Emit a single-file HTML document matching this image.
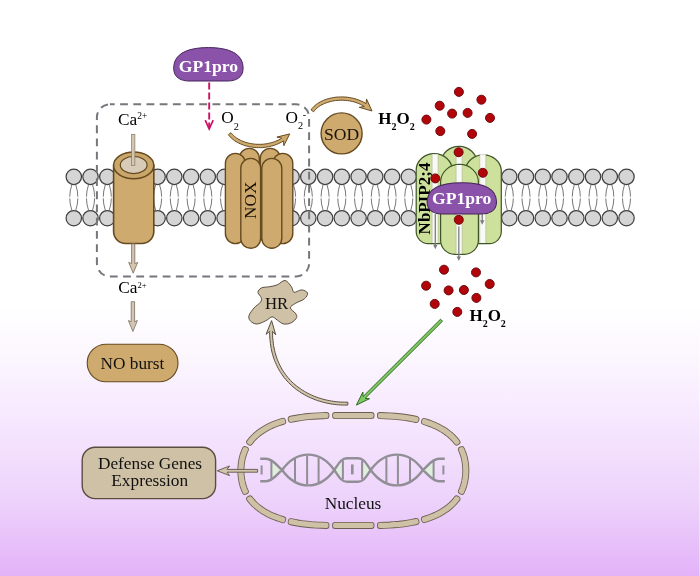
<!DOCTYPE html>
<html lang="en"><head><meta charset="utf-8"><title>GP1pro signalling diagram</title>
<style>html,body{margin:0;padding:0;background:#fff}body{width:700px;height:576px;overflow:hidden}svg{display:block;will-change:transform}</style>
</head><body>
<svg width="700" height="576" viewBox="0 0 700 576" font-family="'Liberation Serif',serif">
<defs><linearGradient id="bg" x1="0" y1="0" x2="0" y2="1"><stop offset="0" stop-color="#fff"/><stop offset="0.53" stop-color="#fff"/><stop offset="0.608" stop-color="#FCF8FE"/><stop offset="0.694" stop-color="#F8ECFE"/><stop offset="0.78" stop-color="#F3E0FD"/><stop offset="0.868" stop-color="#EDD3FB"/><stop offset="1" stop-color="#E3B2F8"/></linearGradient></defs>
<rect width="700" height="576" fill="url(#bg)"/>
<rect x="699" y="0" width="1" height="576" fill="#fff" opacity="0.4"/>
<g id="membrane">
<path d="M71.9,184.5Q67.5,197.5 71.9,210.5M75.7,184.5Q80.1,197.5 75.7,210.5M88.6,184.5Q84.2,197.5 88.6,210.5M92.5,184.5Q96.8,197.5 92.5,210.5M105.4,184.5Q101,197.5 105.4,210.5M109.2,184.5Q113.6,197.5 109.2,210.5M122.1,184.5Q117.8,197.5 122.1,210.5M126,184.5Q130.3,197.5 126,210.5M138.9,184.5Q134.5,197.5 138.9,210.5M142.7,184.5Q147.1,197.5 142.7,210.5M155.7,184.5Q151.2,197.5 155.7,210.5M159.5,184.5Q163.9,197.5 159.5,210.5M172.4,184.5Q168,197.5 172.4,210.5M176.2,184.5Q180.6,197.5 176.2,210.5M189.2,184.5Q184.8,197.5 189.2,210.5M193,184.5Q197.4,197.5 193,210.5M205.9,184.5Q201.5,197.5 205.9,210.5M209.7,184.5Q214.1,197.5 209.7,210.5M222.7,184.5Q218.2,197.5 222.7,210.5M226.5,184.5Q230.9,197.5 226.5,210.5M239.4,184.5Q235,197.5 239.4,210.5M243.2,184.5Q247.6,197.5 243.2,210.5M256.2,184.5Q251.8,197.5 256.2,210.5M259.9,184.5Q264.4,197.5 259.9,210.5M272.9,184.5Q268.5,197.5 272.9,210.5M276.7,184.5Q281.1,197.5 276.7,210.5M289.7,184.5Q285.2,197.5 289.7,210.5M293.4,184.5Q297.9,197.5 293.4,210.5M306.4,184.5Q302,197.5 306.4,210.5M310.2,184.5Q314.6,197.5 310.2,210.5M323.2,184.5Q318.8,197.5 323.2,210.5M326.9,184.5Q331.4,197.5 326.9,210.5M339.9,184.5Q335.5,197.5 339.9,210.5M343.7,184.5Q348.1,197.5 343.7,210.5M356.7,184.5Q352.2,197.5 356.7,210.5M360.4,184.5Q364.9,197.5 360.4,210.5M373.4,184.5Q369,197.5 373.4,210.5M377.2,184.5Q381.6,197.5 377.2,210.5M390.2,184.5Q385.8,197.5 390.2,210.5M393.9,184.5Q398.4,197.5 393.9,210.5M406.9,184.5Q402.5,197.5 406.9,210.5M410.7,184.5Q415.1,197.5 410.7,210.5M423.7,184.5Q419.2,197.5 423.7,210.5M427.4,184.5Q431.9,197.5 427.4,210.5M440.4,184.5Q436,197.5 440.4,210.5M444.2,184.5Q448.6,197.5 444.2,210.5M457.2,184.5Q452.8,197.5 457.2,210.5M460.9,184.5Q465.4,197.5 460.9,210.5M473.9,184.5Q469.5,197.5 473.9,210.5M477.7,184.5Q482.1,197.5 477.7,210.5M490.7,184.5Q486.2,197.5 490.7,210.5M494.4,184.5Q498.9,197.5 494.4,210.5M507.4,184.5Q503,197.5 507.4,210.5M511.2,184.5Q515.6,197.5 511.2,210.5M524.1,184.5Q519.8,197.5 524.1,210.5M527.9,184.5Q532.3,197.5 527.9,210.5M540.9,184.5Q536.5,197.5 540.9,210.5M544.7,184.5Q549.1,197.5 544.7,210.5M557.6,184.5Q553.2,197.5 557.6,210.5M561.4,184.5Q565.8,197.5 561.4,210.5M574.4,184.5Q570,197.5 574.4,210.5M578.2,184.5Q582.6,197.5 578.2,210.5M591.1,184.5Q586.8,197.5 591.1,210.5M594.9,184.5Q599.3,197.5 594.9,210.5M607.9,184.5Q603.5,197.5 607.9,210.5M611.7,184.5Q616.1,197.5 611.7,210.5M624.6,184.5Q620.2,197.5 624.6,210.5M628.4,184.5Q632.8,197.5 628.4,210.5" fill="none" stroke="#606060" stroke-width="0.85"/>
<rect x="60" y="196.6" width="580" height="1.8" fill="#fff" opacity="0.85"/>
<g fill="#D5D5D5" stroke="#404040" stroke-width="1.25"><circle cx="73.8" cy="176.8" r="7.7"/><circle cx="73.8" cy="218.2" r="7.7"/><circle cx="90.5" cy="176.8" r="7.7"/><circle cx="90.5" cy="218.2" r="7.7"/><circle cx="107.3" cy="176.8" r="7.7"/><circle cx="107.3" cy="218.2" r="7.7"/><circle cx="124" cy="176.8" r="7.7"/><circle cx="124" cy="218.2" r="7.7"/><circle cx="140.8" cy="176.8" r="7.7"/><circle cx="140.8" cy="218.2" r="7.7"/><circle cx="157.6" cy="176.8" r="7.7"/><circle cx="157.6" cy="218.2" r="7.7"/><circle cx="174.3" cy="176.8" r="7.7"/><circle cx="174.3" cy="218.2" r="7.7"/><circle cx="191.1" cy="176.8" r="7.7"/><circle cx="191.1" cy="218.2" r="7.7"/><circle cx="207.8" cy="176.8" r="7.7"/><circle cx="207.8" cy="218.2" r="7.7"/><circle cx="224.6" cy="176.8" r="7.7"/><circle cx="224.6" cy="218.2" r="7.7"/><circle cx="241.3" cy="176.8" r="7.7"/><circle cx="241.3" cy="218.2" r="7.7"/><circle cx="258.1" cy="176.8" r="7.7"/><circle cx="258.1" cy="218.2" r="7.7"/><circle cx="274.8" cy="176.8" r="7.7"/><circle cx="274.8" cy="218.2" r="7.7"/><circle cx="291.6" cy="176.8" r="7.7"/><circle cx="291.6" cy="218.2" r="7.7"/><circle cx="308.3" cy="176.8" r="7.7"/><circle cx="308.3" cy="218.2" r="7.7"/><circle cx="325.1" cy="176.8" r="7.7"/><circle cx="325.1" cy="218.2" r="7.7"/><circle cx="341.8" cy="176.8" r="7.7"/><circle cx="341.8" cy="218.2" r="7.7"/><circle cx="358.6" cy="176.8" r="7.7"/><circle cx="358.6" cy="218.2" r="7.7"/><circle cx="375.3" cy="176.8" r="7.7"/><circle cx="375.3" cy="218.2" r="7.7"/><circle cx="392.1" cy="176.8" r="7.7"/><circle cx="392.1" cy="218.2" r="7.7"/><circle cx="408.8" cy="176.8" r="7.7"/><circle cx="408.8" cy="218.2" r="7.7"/><circle cx="425.6" cy="176.8" r="7.7"/><circle cx="425.6" cy="218.2" r="7.7"/><circle cx="442.3" cy="176.8" r="7.7"/><circle cx="442.3" cy="218.2" r="7.7"/><circle cx="459.1" cy="176.8" r="7.7"/><circle cx="459.1" cy="218.2" r="7.7"/><circle cx="475.8" cy="176.8" r="7.7"/><circle cx="475.8" cy="218.2" r="7.7"/><circle cx="492.6" cy="176.8" r="7.7"/><circle cx="492.6" cy="218.2" r="7.7"/><circle cx="509.3" cy="176.8" r="7.7"/><circle cx="509.3" cy="218.2" r="7.7"/><circle cx="526" cy="176.8" r="7.7"/><circle cx="526" cy="218.2" r="7.7"/><circle cx="542.8" cy="176.8" r="7.7"/><circle cx="542.8" cy="218.2" r="7.7"/><circle cx="559.5" cy="176.8" r="7.7"/><circle cx="559.5" cy="218.2" r="7.7"/><circle cx="576.3" cy="176.8" r="7.7"/><circle cx="576.3" cy="218.2" r="7.7"/><circle cx="593" cy="176.8" r="7.7"/><circle cx="593" cy="218.2" r="7.7"/><circle cx="609.8" cy="176.8" r="7.7"/><circle cx="609.8" cy="218.2" r="7.7"/><circle cx="626.5" cy="176.8" r="7.7"/><circle cx="626.5" cy="218.2" r="7.7"/></g>
</g>
<rect x="96.9" y="104.3" width="212.2" height="172.2" rx="13" ry="13" fill="none" stroke="#74777C" stroke-width="2" stroke-dasharray="7.8 5.4" stroke-dashoffset="3"/>
<g id="ca">
<path d="M113.6,165.4 V231.5 A12,12 0 0 0 125.6,243.5 H141.8 A12,12 0 0 0 153.8,231.5 V165.4Z" fill="#CEAA6E" stroke="#65491F" stroke-width="1.6"/>
<ellipse cx="133.7" cy="165.4" rx="20.1" ry="13.3" fill="#C9A669" stroke="#65491F" stroke-width="1.5"/>
<ellipse cx="133.7" cy="165" rx="13.4" ry="8.6" fill="#D8CBB7" stroke="#65491F" stroke-width="1.2"/>
<rect x="131.6" y="134.4" width="3.3" height="31" fill="#D3C5B0" stroke="#8A7B68" stroke-width="0.7"/>
<path d="M131.6,243.8 L131.6,263.6 L128.7,262.4 L133.2,273.2 L137.7,262.4 L134.8,263.6 L134.8,243.8Z" fill="#D3C5B0" stroke="#7A6B58" stroke-width="0.8" stroke-linejoin="miter"/>
</g>
<g id="nox">
<rect x="239.3" y="148.4" width="20" height="96.1" rx="10" ry="10" fill="#CEAA6E" stroke="#65491F" stroke-width="1.4"/>
<rect x="260.3" y="148.4" width="20" height="96.1" rx="10" ry="10" fill="#CEAA6E" stroke="#65491F" stroke-width="1.4"/>
<rect x="225.4" y="153.4" width="20" height="90.2" rx="10" ry="10" fill="#CEAA6E" stroke="#65491F" stroke-width="1.4"/>
<rect x="272.8" y="153.4" width="20" height="90.2" rx="10" ry="10" fill="#CEAA6E" stroke="#65491F" stroke-width="1.4"/>
<rect x="240.8" y="158.4" width="19.8" height="89.9" rx="9.9" ry="9.9" fill="#CEAA6E" stroke="#65491F" stroke-width="1.4"/>
<rect x="261.8" y="158.4" width="20" height="89.9" rx="10" ry="10" fill="#CEAA6E" stroke="#65491F" stroke-width="1.4"/>
<text transform="translate(256,200.3) rotate(-90)" text-anchor="middle" font-size="17.3" fill="#1a1208">NOX</text>
</g>
<path d="M173.7,68.3 C173.7,53.6 187.6,47.6 208.4,47.6 C229.2,47.6 243.1,53.6 243.1,68.3 C243.1,78.3 234.8,81 227.8,81 H189 C182,81 173.7,78.3 173.7,68.3Z" fill="#8A52A9" stroke="#45255A" stroke-width="1"/>
<text x="208.5" y="71.6" text-anchor="middle" font-size="17.6" font-weight="bold" fill="#fff">GP1pro</text>
<path d="M209.2,82.5V128" fill="none" stroke="#CC1166" stroke-width="1.9" stroke-dasharray="7 3"/>
<path d="M205.2,120.2L209.2,129L213.2,120.2" fill="none" stroke="#CC1166" stroke-width="1.7"/>
<text x="118" y="124.8" font-size="17.3" font-weight="normal" fill="#000"><tspan dy="0">Ca</tspan><tspan font-size="9.5" dy="-5.9">2+</tspan></text>
<text x="118.3" y="292.6" font-size="17.3">Ca<tspan font-size="8.6" dy="-5">2+</tspan></text>
<text x="221.3" y="123.4" font-size="17.3" font-weight="normal" fill="#000"><tspan dy="0">O</tspan><tspan font-size="10.2" dy="6.1">2</tspan></text>
<text x="285.6" y="123.4" font-size="17.3">O<tspan font-size="10.2" dy="6">2</tspan><tspan font-size="10" dy="-11" dx="-0.4">-</tspan></text>
<text x="378.3" y="123.6" font-size="17" font-weight="bold" fill="#000"><tspan dy="0">H</tspan><tspan font-size="10" dy="5.9">2</tspan><tspan dy="-5.9">O</tspan><tspan font-size="10" dy="5.9">2</tspan></text>
<text x="469.4" y="321.4" font-size="17" font-weight="bold" fill="#000"><tspan dy="0">H</tspan><tspan font-size="10" dy="5.9">2</tspan><tspan dy="-5.9">O</tspan><tspan font-size="10" dy="5.9">2</tspan></text>
<path d="M228.4,134.7 L229.2,135.8 L230.2,136.9 L231.2,137.9 L232.3,138.9 L233.5,139.9 L234.7,140.8 L236,141.6 L237.4,142.4 L238.8,143.1 L240.3,143.8 L241.8,144.4 L243.3,145 L244.9,145.6 L246.5,146 L248.2,146.4 L249.9,146.8 L251.6,147.1 L253.3,147.3 L255.1,147.5 L256.8,147.6 L258.6,147.6 L260.4,147.6 L262.2,147.6 L264.1,147.4 L265.9,147.2 L267.7,146.9 L269.5,146.6 L271.3,146.1 L273.1,145.6 L274.8,145.1 L276.6,144.4 L278.3,143.7 L280,142.9 L281.7,142 L283.3,141.1 L283.6,140.9 L283.8,145.7 L289.7,133.9 L276.9,137.1 L281.8,138.1 L281.6,138.3 L280.1,139.2 L278.6,140 L277,140.7 L275.4,141.4 L273.8,142 L272.1,142.5 L270.5,142.9 L268.8,143.3 L267.1,143.7 L265.4,143.9 L263.7,144.1 L262,144.3 L260.4,144.3 L258.7,144.3 L257,144.3 L255.3,144.2 L253.7,144 L252.1,143.8 L250.5,143.5 L248.9,143.2 L247.4,142.8 L245.9,142.4 L244.4,141.9 L243,141.4 L241.6,140.8 L240.3,140.2 L239,139.5 L237.8,138.8 L236.6,138 L235.5,137.2 L234.5,136.4 L233.5,135.5 L232.6,134.6 L231.8,133.7 L231,132.7Z" fill="#CEAA6E" stroke="#65491F" stroke-width="1"/>
<path d="M313.6,111.8 L314.4,110.7 L315.3,109.7 L316.2,108.8 L317.2,107.9 L318.3,107 L319.5,106.2 L320.7,105.4 L322,104.7 L323.3,104.1 L324.7,103.4 L326.1,102.9 L327.6,102.4 L329.1,101.9 L330.7,101.5 L332.3,101.1 L333.9,100.8 L335.5,100.6 L337.2,100.4 L338.9,100.3 L340.6,100.2 L342.3,100.2 L344,100.3 L345.7,100.4 L347.4,100.6 L349.1,100.8 L350.8,101.1 L352.4,101.5 L354.1,101.9 L355.7,102.4 L357.3,103 L358.8,103.6 L360.3,104.3 L361.8,105 L363.3,105.8 L364.3,106.5 L359.3,107.3 L372,111 L366.5,99 L366.1,103.7 L365,103 L363.4,102.1 L361.8,101.3 L360.1,100.6 L358.4,99.9 L356.7,99.3 L355,98.8 L353.2,98.3 L351.4,97.9 L349.6,97.6 L347.8,97.3 L346,97.1 L344.1,97 L342.3,96.9 L340.5,97 L338.7,97 L336.9,97.1 L335.1,97.3 L333.4,97.6 L331.6,97.9 L329.9,98.3 L328.2,98.7 L326.6,99.2 L325,99.8 L323.4,100.4 L321.9,101.1 L320.4,101.8 L319,102.6 L317.6,103.5 L316.3,104.4 L315.1,105.4 L313.9,106.4 L312.9,107.5 L311.9,108.6 L311,109.8Z" fill="#CEAA6E" stroke="#65491F" stroke-width="1"/>
<circle cx="341.6" cy="133.4" r="20.5" fill="#CEAA6E" stroke="#65491F" stroke-width="1.4"/>
<text x="341.6" y="140" text-anchor="middle" font-size="17.6" fill="#1a1208">SOD</text>
<g id="aqp">
<path d="M441,162.9 A18,16.5 0 0 1 477,162.9 V233 A12,12 0 0 1 465,245 H453 A12,12 0 0 1 441,233Z" fill="#CDE19C" stroke="#3F5527" stroke-width="1.2"/>
<rect x="456.1" y="147.2" width="6" height="96.8" fill="#F9FAF6"/><path d="M456.1,147.2V244M462.1,147.2V244" stroke="#A9B49A" stroke-width="0.6" fill="none"/>
<path d="M416.2,170.1 A18,16.5 0 0 1 452.2,170.1 V231.6 A12,12 0 0 1 440.2,243.6 H428.2 A12,12 0 0 1 416.2,231.6Z" fill="#CDE19C" stroke="#3F5527" stroke-width="1.2"/>
<rect x="432.1" y="154.3" width="6" height="88.7" fill="#F9FAF6"/><path d="M432.1,154.3V243M438.1,154.3V243" stroke="#A9B49A" stroke-width="0.6" fill="none"/>
<path d="M465.4,170.1 A18,16.5 0 0 1 501.3,170.1 V231.6 A12,12 0 0 1 489.3,243.6 H477.4 A12,12 0 0 1 465.4,231.6Z" fill="#CDE19C" stroke="#3F5527" stroke-width="1.2"/>
<rect x="479.8" y="154.3" width="6" height="88.7" fill="#F9FAF6"/><path d="M479.8,154.3V243M485.8,154.3V243" stroke="#A9B49A" stroke-width="0.6" fill="none"/>
<path d="M440.6,182.3 A18.9,18 0 0 1 478.4,182.3 V240.3 A14,14 0 0 1 464.4,254.3 H454.6 A14,14 0 0 1 440.6,240.3Z" fill="#CDE19C" stroke="#3F5527" stroke-width="1.2"/>
<rect x="456.1" y="165" width="6" height="88.6" fill="#F9FAF6"/><path d="M456.1,165V253.6M462.1,165V253.6" stroke="#A9B49A" stroke-width="0.6" fill="none"/>
<text transform="translate(430.2,198.5) rotate(-90)" text-anchor="middle" font-size="17" font-weight="bold" fill="#000">NbPIP2;4</text>
<path d="M435.3,214V246.3" stroke="#7d7d7d" stroke-width="1.3" fill="none"/><path d="M433.1,244.8L435.3,249.3L437.5,244.8Z" fill="#7d7d7d"/>
<path d="M458.8,226.5V258" stroke="#7d7d7d" stroke-width="1.3" fill="none"/><path d="M456.6,256.5L458.8,261L461,256.5Z" fill="#7d7d7d"/>
<path d="M482.2,212V221.8" stroke="#7d7d7d" stroke-width="1.3" fill="none"/><path d="M480,220.3L482.2,224.8L484.4,220.3Z" fill="#7d7d7d"/>
</g>
<g fill="#B20509" stroke="#6E0A10" stroke-width="1"><circle cx="458.9" cy="91.9" r="4.5"/><circle cx="481.4" cy="99.7" r="4.5"/><circle cx="439.7" cy="105.7" r="4.5"/><circle cx="452.1" cy="113.6" r="4.5"/><circle cx="467.6" cy="112.9" r="4.5"/><circle cx="490" cy="117.9" r="4.5"/><circle cx="426.4" cy="119.6" r="4.5"/><circle cx="440.3" cy="131.1" r="4.5"/><circle cx="472.1" cy="133.9" r="4.5"/><circle cx="458.6" cy="152.2" r="4.5"/><circle cx="482.8" cy="172.8" r="4.5"/><circle cx="435.3" cy="178.4" r="4.5"/><circle cx="458.8" cy="219.8" r="4.5"/><circle cx="444" cy="269.7" r="4.5"/><circle cx="476" cy="272.4" r="4.5"/><circle cx="426.1" cy="285.7" r="4.5"/><circle cx="489.7" cy="284" r="4.5"/><circle cx="448.6" cy="290.4" r="4.5"/><circle cx="463.9" cy="290" r="4.5"/><circle cx="476.4" cy="297.9" r="4.5"/><circle cx="434.7" cy="303.9" r="4.5"/><circle cx="457.3" cy="311.9" r="4.5"/></g>
<path d="M427.1,202.1 C427.1,188.4 441,182.8 461.8,182.8 C482.6,182.8 496.5,188.4 496.5,202.1 C496.5,211.5 488.2,214 481.2,214 H442.4 C435.4,214 427.1,211.5 427.1,202.1Z" fill="#8A52A9" stroke="#45255A" stroke-width="1.1"/>
<text x="461.7" y="204.4" text-anchor="middle" font-size="17.6" font-weight="bold" fill="#fff">GP1pro</text>
<path d="M285,280.5C287.4,280.8 289.9,284.7 291.4,286.7C292.9,288.7 292.3,291.8 294,292.3C295.7,292.8 299.4,289.8 301.7,289.9C303.9,290 307.1,291.6 307.5,293.1C307.9,294.6 306.3,297.2 304.3,298.9C302.3,300.6 297.6,301.9 295.3,303.4C293,304.9 290.3,306.3 290.3,307.9C290.3,309.5 294.2,311.5 295.3,313.1C296.4,314.7 297.2,315.9 296.6,317.5C296,319.1 293.5,321.6 291.4,322.7C289.2,323.8 286,324.4 283.7,324C281.4,323.6 279.2,321.3 277.3,320.1C275.4,318.9 274,316.8 272.1,316.9C270.2,317 268.3,319.6 265.7,320.8C263.1,322 259.3,324 256.7,324C254.1,324 251.6,322.2 250.3,320.8C249,319.4 248.4,317.8 249,315.6C249.6,313.5 252.2,310.1 254.1,307.9C256,305.6 259.4,303.8 260.6,302.1C261.8,300.4 261.6,299.2 261.2,297.6C260.8,296 258,294.1 258,292.5C258,290.9 259.3,289 261.2,288C263.1,287 266.9,287.2 269.6,286.7C272.3,286.2 274.7,285.8 277.3,284.8C279.9,283.8 282.6,280.2 285,280.5Z" fill="#CFC1A6" stroke="#5A4D40" stroke-width="1"/>
<text x="276.6" y="308.7" text-anchor="middle" font-size="16.8" fill="#111">HR</text>
<path d="M347.8,402.2 L346,402.2 L344.2,402.2 L342.4,402.1 L340.6,402.1 L338.8,401.9 L336.9,401.8 L335.1,401.6 L333.3,401.3 L331.4,401 L329.6,400.7 L327.7,400.3 L325.9,399.9 L324,399.5 L322.2,398.9 L320.4,398.4 L318.5,397.8 L316.7,397.2 L314.9,396.5 L313.1,395.8 L311.4,395 L309.6,394.2 L307.9,393.3 L306.2,392.4 L304.5,391.4 L302.8,390.4 L301.2,389.3 L299.6,388.2 L298,387.1 L296.4,385.8 L294.9,384.6 L293.4,383.3 L292,381.9 L290.6,380.5 L289.2,379 L287.9,377.5 L286.6,375.9 L285.4,374.3 L284.2,372.6 L283,370.9 L281.9,369.1 L280.9,367.2 L279.9,365.3 L279,363.4 L278.1,361.4 L277.3,359.3 L276.5,357.1 L275.8,355 L275.1,352.7 L274.6,350.4 L274.1,348 L273.6,345.6 L273.3,343.1 L273,340.5 L272.7,337.9 L272.6,335.2 L272.5,332.4 L272.5,331.4 L275.7,334.8 L271.6,320.6 L266.1,334.3 L269.6,331.4 L269.6,332.5 L269.7,335.3 L269.8,338.1 L270.1,340.8 L270.4,343.4 L270.8,346 L271.2,348.6 L271.7,351 L272.3,353.4 L273,355.8 L273.7,358.1 L274.5,360.3 L275.4,362.5 L276.3,364.6 L277.3,366.6 L278.3,368.6 L279.4,370.6 L280.6,372.4 L281.8,374.3 L283,376 L284.3,377.7 L285.7,379.4 L287.1,381 L288.5,382.5 L290,384 L291.5,385.4 L293,386.8 L294.6,388.1 L296.2,389.4 L297.9,390.6 L299.6,391.7 L301.3,392.9 L303,393.9 L304.8,394.9 L306.6,395.9 L308.4,396.8 L310.2,397.6 L312,398.4 L313.9,399.2 L315.7,399.9 L317.6,400.6 L319.5,401.2 L321.4,401.7 L323.3,402.3 L325.2,402.7 L327.1,403.2 L329,403.5 L330.9,403.9 L332.9,404.2 L334.8,404.4 L336.7,404.7 L338.6,404.8 L340.4,405 L342.3,405 L344.2,405.1 L346,405.1 L347.8,405Z" fill="#D2C5AE" stroke="#5A4F40" stroke-width="1"/>
<path d="M440.5,319.2 L363.1,396.5 L362.9,392 L356.4,405.1 L369.5,398.7 L365,398.5 L442.5,321.2Z" fill="#80C862" stroke="#2F6A22" stroke-width="1"/>
<path d="M131.2,301.7 L131.2,321.7 L128.4,320.5 L132.9,331.5 L137.4,320.5 L134.6,321.7 L134.6,301.7Z" fill="#D3C7B4" stroke="#7A6F60" stroke-width="0.8"/>
<rect x="87.2" y="344.2" width="90.8" height="37.6" rx="18.8" fill="#CEAA6E" stroke="#65491F" stroke-width="1.1"/>
<text x="132.4" y="369" text-anchor="middle" font-size="17.3" fill="#111">NO burst</text>
<rect x="82.2" y="447.2" width="133.4" height="51.4" rx="13" fill="#CFC1A6" stroke="#5A4D40" stroke-width="1.4"/>
<text x="150" y="469.4" text-anchor="middle" font-size="17.3" fill="#111">Defense Genes</text>
<text x="149.7" y="486.4" text-anchor="middle" font-size="17.3" fill="#111">Expression</text>
<path d="M250,442.6 L251.7,440.4 L253.6,438.3 L255.7,436.3 L257.9,434.4 L260.3,432.6 L262.8,430.8 L265.5,429.2 L268.3,427.6 L271.3,426.1 L274.5,424.8 L277.9,423.5 L281.4,422.3 L283.2,421.8 L282.9,420.8 L281.1,421.4 L277.5,422.6 L274.2,423.8 L270.9,425.2 L267.9,426.7 L265,428.3 L262.2,430 L259.7,431.7 L257.3,433.6 L255,435.6 L252.9,437.6 L251,439.8 L249.2,442ZM290.9,419.8 L295,419 L299.2,418.3 L303.6,417.6 L308.2,417.1 L313,416.7 L317.9,416.4 L323,416.2 L326.4,416.1 L326.4,415.1 L322.9,415.2 L317.8,415.4 L312.9,415.7 L308.1,416.1 L303.5,416.6 L299.1,417.3 L294.8,418 L290.7,418.8ZM335.1,416.1 L336.5,416.1 L337.9,416.1 L339.3,416.1 L340.7,416.1 L342.1,416.1 L343.5,416.1 L344.8,416.1 L346.2,416.1 L347.6,416.1 L349,416.1 L350.4,416.1 L351.8,416.1 L353.2,416.1 L354.6,416.1 L356,416.1 L357.4,416.1 L358.8,416.1 L360.2,416.1 L361.6,416.1 L362.9,416.1 L364.3,416.1 L365.7,416.1 L367.1,416.1 L368.5,416.1 L369.9,416.1 L371.3,416.1 L371.5,416.1 L371.5,415.1 L371.3,415.1 L369.9,415.1 L368.5,415.1 L367.1,415.1 L365.7,415.1 L364.3,415.1 L362.9,415.1 L361.6,415.1 L360.2,415.1 L358.8,415.1 L357.4,415.1 L356,415.1 L354.6,415.1 L353.2,415.1 L351.8,415.1 L350.4,415.1 L349,415.1 L347.6,415.1 L346.2,415.1 L344.8,415.1 L343.5,415.1 L342.1,415.1 L340.7,415.1 L339.3,415.1 L337.9,415.1 L336.5,415.1 L335.1,415.1ZM380,416.1 L385.2,416.3 L390.2,416.5 L395,416.8 L399.8,417.3 L404.3,417.8 L408.7,418.5 L412.9,419.3 L416.2,420 L416.5,419 L413.1,418.3 L408.8,417.5 L404.4,416.8 L399.9,416.3 L395.1,415.8 L390.2,415.5 L385.2,415.3 L380,415.1ZM423.9,422 L427.5,423.1 L430.9,424.3 L434.1,425.7 L437.2,427.1 L440.1,428.6 L442.9,430.3 L445.5,432 L447.9,433.8 L450.2,435.7 L452.3,437.6 L454.3,439.7 L456.1,441.9 L456.6,442.6 L457.4,442 L456.8,441.2 L455,439 L453,436.9 L450.9,434.9 L448.5,433 L446.1,431.1 L443.4,429.4 L440.6,427.8 L437.6,426.2 L434.5,424.8 L431.2,423.4 L427.8,422.2 L424.2,421ZM460.9,449.6 L462,452.2 L462.9,454.8 L463.7,457.4 L464.3,460.2 L464.8,463 L465.1,466 L465.3,469 L465.3,472 L465.1,475 L464.8,478 L464.3,480.8 L463.7,483.6 L462.9,486.2 L462,488.8 L460.9,491.4 L461.3,491.6 L461.3,491.6 L461.8,491.8 L462.9,489.2 L463.9,486.6 L464.7,483.8 L465.3,481 L465.8,478.1 L466.1,475.1 L466.3,472.1 L466.3,468.9 L466.1,465.9 L465.8,462.9 L465.3,460 L464.7,457.2 L463.9,454.4 L462.9,451.8 L461.8,449.2ZM456.6,498.4 L454.9,500.6 L453,502.7 L450.9,504.7 L448.7,506.6 L446.3,508.4 L443.8,510.2 L441.1,511.8 L438.2,513.4 L435.2,514.9 L432,516.2 L428.6,517.5 L425.1,518.7 L423.9,519 L424.2,520 L425.4,519.6 L429,518.4 L432.3,517.2 L435.6,515.8 L438.7,514.3 L441.6,512.7 L444.3,511 L446.9,509.3 L449.3,507.4 L451.6,505.4 L453.7,503.4 L455.6,501.2 L457.4,499ZM416.2,521 L412.2,521.9 L407.9,522.6 L403.5,523.3 L399,523.8 L394.3,524.2 L389.4,524.6 L384.3,524.8 L380,524.9 L380,525.9 L384.3,525.8 L389.4,525.6 L394.3,525.2 L399.1,524.8 L403.7,524.3 L408.1,523.6 L412.4,522.9 L416.5,522ZM371.5,524.9 L370.1,524.9 L368.7,524.9 L367.4,524.9 L366,524.9 L364.6,524.9 L363.2,524.9 L361.8,524.9 L360.4,524.9 L359,524.9 L357.6,524.9 L356.2,524.9 L354.8,524.9 L353.4,524.9 L352,524.9 L350.6,524.9 L349.3,524.9 L347.9,524.9 L346.5,524.9 L345.1,524.9 L343.7,524.9 L342.3,524.9 L340.9,524.9 L339.5,524.9 L338.1,524.9 L336.7,524.9 L335.3,524.9 L335.1,524.9 L335.1,525.9 L335.3,525.9 L336.7,525.9 L338.1,525.9 L339.5,525.9 L340.9,525.9 L342.3,525.9 L343.7,525.9 L345.1,525.9 L346.5,525.9 L347.9,525.9 L349.3,525.9 L350.6,525.9 L352,525.9 L353.4,525.9 L354.8,525.9 L356.2,525.9 L357.6,525.9 L359,525.9 L360.4,525.9 L361.8,525.9 L363.2,525.9 L364.6,525.9 L366,525.9 L367.4,525.9 L368.7,525.9 L370.1,525.9 L371.5,525.9ZM326.4,524.9 L321.2,524.7 L316.2,524.5 L311.4,524.2 L306.7,523.7 L302.1,523.2 L297.8,522.5 L293.6,521.7 L290.9,521.2 L290.7,522.2 L293.4,522.7 L297.6,523.5 L302,524.2 L306.6,524.7 L311.3,525.2 L316.2,525.5 L321.2,525.7 L326.4,525.9ZM283.2,519.2 L279.6,518.1 L276.2,516.9 L272.9,515.6 L269.8,514.1 L266.9,512.6 L264.1,511 L261.5,509.3 L259,507.5 L256.8,505.7 L254.6,503.7 L252.7,501.6 L250.9,499.5 L250,498.4 L249.2,499 L250.1,500.1 L251.9,502.3 L253.9,504.4 L256.1,506.4 L258.4,508.3 L260.9,510.1 L263.6,511.9 L266.4,513.5 L269.4,515 L272.5,516.5 L275.8,517.8 L279.3,519 L282.9,520.2ZM245.8,491.4 L244.7,488.8 L243.8,486.2 L243,483.6 L242.4,480.8 L241.9,478 L241.6,475 L241.4,472 L241.4,469 L241.6,466 L241.9,463 L242.4,460.2 L243,457.4 L243.8,454.8 L244.7,452.2 L245.8,449.6 L245.3,449.4 L245.3,449.4 L244.9,449.2 L243.8,451.8 L242.8,454.4 L242,457.2 L241.4,460 L240.9,462.9 L240.6,465.9 L240.4,468.9 L240.4,472.1 L240.6,475.1 L240.9,478.1 L241.4,481 L242,483.8 L242.8,486.6 L243.8,489.2 L244.9,491.8Z" fill="#6B5F4F" stroke="#6B5F4F" stroke-width="6.0" stroke-linejoin="round"/>
<path d="M250,442.6 L251.7,440.4 L253.6,438.3 L255.7,436.3 L257.9,434.4 L260.3,432.6 L262.8,430.8 L265.5,429.2 L268.3,427.6 L271.3,426.1 L274.5,424.8 L277.9,423.5 L281.4,422.3 L283.2,421.8 L282.9,420.8 L281.1,421.4 L277.5,422.6 L274.2,423.8 L270.9,425.2 L267.9,426.7 L265,428.3 L262.2,430 L259.7,431.7 L257.3,433.6 L255,435.6 L252.9,437.6 L251,439.8 L249.2,442ZM290.9,419.8 L295,419 L299.2,418.3 L303.6,417.6 L308.2,417.1 L313,416.7 L317.9,416.4 L323,416.2 L326.4,416.1 L326.4,415.1 L322.9,415.2 L317.8,415.4 L312.9,415.7 L308.1,416.1 L303.5,416.6 L299.1,417.3 L294.8,418 L290.7,418.8ZM335.1,416.1 L336.5,416.1 L337.9,416.1 L339.3,416.1 L340.7,416.1 L342.1,416.1 L343.5,416.1 L344.8,416.1 L346.2,416.1 L347.6,416.1 L349,416.1 L350.4,416.1 L351.8,416.1 L353.2,416.1 L354.6,416.1 L356,416.1 L357.4,416.1 L358.8,416.1 L360.2,416.1 L361.6,416.1 L362.9,416.1 L364.3,416.1 L365.7,416.1 L367.1,416.1 L368.5,416.1 L369.9,416.1 L371.3,416.1 L371.5,416.1 L371.5,415.1 L371.3,415.1 L369.9,415.1 L368.5,415.1 L367.1,415.1 L365.7,415.1 L364.3,415.1 L362.9,415.1 L361.6,415.1 L360.2,415.1 L358.8,415.1 L357.4,415.1 L356,415.1 L354.6,415.1 L353.2,415.1 L351.8,415.1 L350.4,415.1 L349,415.1 L347.6,415.1 L346.2,415.1 L344.8,415.1 L343.5,415.1 L342.1,415.1 L340.7,415.1 L339.3,415.1 L337.9,415.1 L336.5,415.1 L335.1,415.1ZM380,416.1 L385.2,416.3 L390.2,416.5 L395,416.8 L399.8,417.3 L404.3,417.8 L408.7,418.5 L412.9,419.3 L416.2,420 L416.5,419 L413.1,418.3 L408.8,417.5 L404.4,416.8 L399.9,416.3 L395.1,415.8 L390.2,415.5 L385.2,415.3 L380,415.1ZM423.9,422 L427.5,423.1 L430.9,424.3 L434.1,425.7 L437.2,427.1 L440.1,428.6 L442.9,430.3 L445.5,432 L447.9,433.8 L450.2,435.7 L452.3,437.6 L454.3,439.7 L456.1,441.9 L456.6,442.6 L457.4,442 L456.8,441.2 L455,439 L453,436.9 L450.9,434.9 L448.5,433 L446.1,431.1 L443.4,429.4 L440.6,427.8 L437.6,426.2 L434.5,424.8 L431.2,423.4 L427.8,422.2 L424.2,421ZM460.9,449.6 L462,452.2 L462.9,454.8 L463.7,457.4 L464.3,460.2 L464.8,463 L465.1,466 L465.3,469 L465.3,472 L465.1,475 L464.8,478 L464.3,480.8 L463.7,483.6 L462.9,486.2 L462,488.8 L460.9,491.4 L461.3,491.6 L461.3,491.6 L461.8,491.8 L462.9,489.2 L463.9,486.6 L464.7,483.8 L465.3,481 L465.8,478.1 L466.1,475.1 L466.3,472.1 L466.3,468.9 L466.1,465.9 L465.8,462.9 L465.3,460 L464.7,457.2 L463.9,454.4 L462.9,451.8 L461.8,449.2ZM456.6,498.4 L454.9,500.6 L453,502.7 L450.9,504.7 L448.7,506.6 L446.3,508.4 L443.8,510.2 L441.1,511.8 L438.2,513.4 L435.2,514.9 L432,516.2 L428.6,517.5 L425.1,518.7 L423.9,519 L424.2,520 L425.4,519.6 L429,518.4 L432.3,517.2 L435.6,515.8 L438.7,514.3 L441.6,512.7 L444.3,511 L446.9,509.3 L449.3,507.4 L451.6,505.4 L453.7,503.4 L455.6,501.2 L457.4,499ZM416.2,521 L412.2,521.9 L407.9,522.6 L403.5,523.3 L399,523.8 L394.3,524.2 L389.4,524.6 L384.3,524.8 L380,524.9 L380,525.9 L384.3,525.8 L389.4,525.6 L394.3,525.2 L399.1,524.8 L403.7,524.3 L408.1,523.6 L412.4,522.9 L416.5,522ZM371.5,524.9 L370.1,524.9 L368.7,524.9 L367.4,524.9 L366,524.9 L364.6,524.9 L363.2,524.9 L361.8,524.9 L360.4,524.9 L359,524.9 L357.6,524.9 L356.2,524.9 L354.8,524.9 L353.4,524.9 L352,524.9 L350.6,524.9 L349.3,524.9 L347.9,524.9 L346.5,524.9 L345.1,524.9 L343.7,524.9 L342.3,524.9 L340.9,524.9 L339.5,524.9 L338.1,524.9 L336.7,524.9 L335.3,524.9 L335.1,524.9 L335.1,525.9 L335.3,525.9 L336.7,525.9 L338.1,525.9 L339.5,525.9 L340.9,525.9 L342.3,525.9 L343.7,525.9 L345.1,525.9 L346.5,525.9 L347.9,525.9 L349.3,525.9 L350.6,525.9 L352,525.9 L353.4,525.9 L354.8,525.9 L356.2,525.9 L357.6,525.9 L359,525.9 L360.4,525.9 L361.8,525.9 L363.2,525.9 L364.6,525.9 L366,525.9 L367.4,525.9 L368.7,525.9 L370.1,525.9 L371.5,525.9ZM326.4,524.9 L321.2,524.7 L316.2,524.5 L311.4,524.2 L306.7,523.7 L302.1,523.2 L297.8,522.5 L293.6,521.7 L290.9,521.2 L290.7,522.2 L293.4,522.7 L297.6,523.5 L302,524.2 L306.6,524.7 L311.3,525.2 L316.2,525.5 L321.2,525.7 L326.4,525.9ZM283.2,519.2 L279.6,518.1 L276.2,516.9 L272.9,515.6 L269.8,514.1 L266.9,512.6 L264.1,511 L261.5,509.3 L259,507.5 L256.8,505.7 L254.6,503.7 L252.7,501.6 L250.9,499.5 L250,498.4 L249.2,499 L250.1,500.1 L251.9,502.3 L253.9,504.4 L256.1,506.4 L258.4,508.3 L260.9,510.1 L263.6,511.9 L266.4,513.5 L269.4,515 L272.5,516.5 L275.8,517.8 L279.3,519 L282.9,520.2ZM245.8,491.4 L244.7,488.8 L243.8,486.2 L243,483.6 L242.4,480.8 L241.9,478 L241.6,475 L241.4,472 L241.4,469 L241.6,466 L241.9,463 L242.4,460.2 L243,457.4 L243.8,454.8 L244.7,452.2 L245.8,449.6 L245.3,449.4 L245.3,449.4 L244.9,449.2 L243.8,451.8 L242.8,454.4 L242,457.2 L241.4,460 L240.9,462.9 L240.6,465.9 L240.4,468.9 L240.4,472.1 L240.6,475.1 L240.9,478.1 L241.4,481 L242,483.8 L242.8,486.6 L243.8,489.2 L244.9,491.8Z" fill="#CFC1A6" stroke="#CFC1A6" stroke-width="4.3" stroke-linejoin="round"/>
<path d="M257.6,469.4 L227,469.4 L229.6,466 L217.2,470.8 L229.6,475.6 L227,472.2 L257.6,472.2Z" fill="#D2C5AE" stroke="#5E5244" stroke-width="0.9"/>
<g id="dna">
<path d="M271.4,461.4L282.1,470L271.4,478.6Z" fill="#DFEEDD"/>
<path d="M342.9,461.4L334.3,470L342.9,478.6Z" fill="#DFEEDD"/>
<path d="M362.1,461.4L370.7,470L362.1,478.6Z" fill="#DFEEDD"/>
<path d="M433.6,461.4L422.9,470L433.6,478.6Z" fill="#DFEEDD"/>
<path d="M260.2,458.8 H266 C273,458.8 277,466 282.1,470 C290,481 298,485.4 308.2,485.4 C318.4,485.4 326.4,481 334.3,470 C338.5,464 341,458.2 347,458.2 H358 C364,458.2 366.5,464 370.7,470 C378.6,481 386.6,485.4 396.8,485.4 C407,485.4 415,481 422.9,470 C428,466 432,458.8 439,458.8 H444.8M260.2,481.2 H266 C273,481.2 277,474 282.1,470 C290,459 298,454.6 308.2,454.6 C318.4,454.6 326.4,459 334.3,470 C338.5,476 341,481.8 347,481.8 H358 C364,481.8 366.5,476 370.7,470 C378.6,459 386.6,454.6 396.8,454.6 C407,454.6 415,459 422.9,470 C428,474 432,481.2 439,481.2 H444.8" fill="none" stroke="#918E96" stroke-width="2.4" stroke-linejoin="round"/>
<path d="M271.4,460.6V479.4M295,458.7V481.3M307.1,455.6V484.4M318.6,457.8V482.2M342.9,460.6V479.4M362.1,460.6V479.4M386.4,457.8V482.2M397.9,455.6V484.4M410,458.7V481.3M433.6,460.6V479.4" stroke="#918E96" stroke-width="2" fill="none"/>
<path d="M261.6,465.6V474.4M443.4,465.6V474.4" stroke="#918E96" stroke-width="2" fill="none"/>
<path d="M352.3,464.4V474.4" stroke="#918E96" stroke-width="2.6" fill="none"/>
</g>
<text x="353" y="509" text-anchor="middle" font-size="17.3" fill="#111">Nucleus</text>
</svg>
</body></html>
